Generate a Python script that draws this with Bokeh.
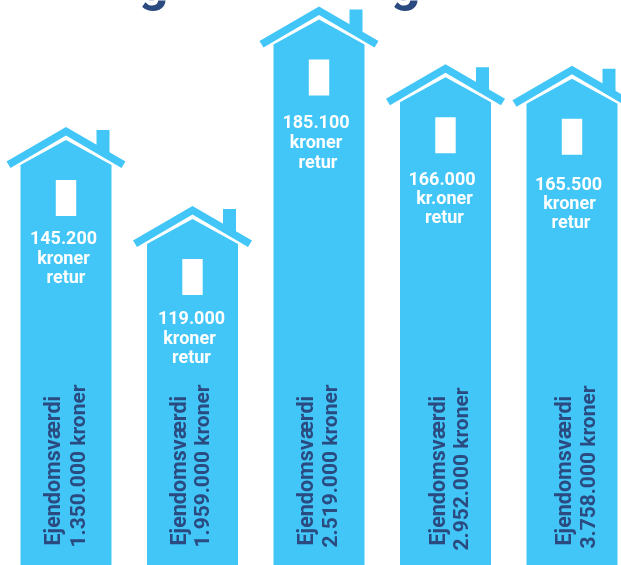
import math
from bokeh.plotting import figure
from bokeh.models import ColumnDataSource
from bokeh.core.properties import value
from bokeh.embed import file_html
from bokeh.resources import INLINE

# --- data ---
returns_k = [145.2, 119.0, 185.1, 166.0, 165.5]
return_labels = ["145.200", "119.000", "185.100", "166.000", "165.500"]
unit_labels = ["kroner", "kroner", "kroner", "kr.oner", "kroner"]
suffix_labels = ["retur", "retur", "retur", "retur", "retur"]
caption_labels = ["Ejendomsværdi"] * 5
property_labels = ["1.350.000 kroner", "1.959.000 kroner", "2.519.000 kroner",
                   "2.952.000 kroner", "3.758.000 kroner"]
title_fragments = ["g", "g"]

# --- layout ---
W, H = 621, 565
PX_PER_K = 3.02
SPACING = 126.5
FIRST = 65.5
BLUE = "#41C6F7"
NAVY = "#2A4A80"
FONT = value("Roboto")
BASE = 0.35  # em shift that brings Bokeh's text baseline onto the wanted line

xs = list(range(len(returns_k)))
p = figure(width=W, height=H, output_backend="svg", toolbar_location=None,
           x_range=(-FIRST / SPACING, (W - FIRST) / SPACING),
           y_range=(0, H / PX_PER_K), min_border=0, outline_line_color=None,
           background_fill_color="white", border_fill_color="white")
p.axis.visible = False
p.grid.visible = False
p.styles = {"position": "fixed", "left": "0", "top": "0"}


def shape(pts):
    """Turn a house outline (px from the roof top) into patches for every house."""
    px, py = [], []
    for i, v in zip(xs, returns_k):
        px.append([i + dx / SPACING for dx, dy in pts])
        py.append([v - dy / PX_PER_K if dy is not None else 0 for dx, dy in pts])
    return px, py


BODY = [(0, 13), (45.5, 38), (45.5, None), (-45.5, None), (-45.5, 38)]
ROOF = [(0, 0), (59.5, 34.5), (55.5, 41), (0, 8.5), (-55.5, 41), (-59.5, 34.5)]
CHIMNEY = [(30.5, 3), (43.5, 3), (43.5, 27), (30.5, 20)]
WINDOW = [(-10.2, 53), (10.2, 53), (10.2, 89), (-10.2, 89)]

for pts, col in [(BODY, BLUE), (ROOF, BLUE), (CHIMNEY, BLUE), (WINDOW, "white")]:
    px, py = shape(pts)
    p.patches(px, py, fill_color=col, line_color=None)

# white "return" labels, offsets in px from each roof top
WHITE_SIZE = 18
line_rows = [
    (return_labels, [117, 118, 121.7, 121, 124], [-2.5, -1, -3, -3.5, -3.5]),
    (unit_labels, [137, 137.5, 141, 140, 143], [-2.5, -3, -3, -1, -2.5]),
    (suffix_labels, [155.7, 156.5, 161, 158.7, 162], [0, -1, -1, -1, -1]),
]
for texts, dy, dx in line_rows:
    src = ColumnDataSource(dict(x=xs, y=returns_k, t=texts, xo=dx,
                                yo=[d - BASE * WHITE_SIZE for d in dy]))
    p.text("x", "y", text="t", source=src, x_offset="xo", y_offset="yo",
           text_color="white", text_font=FONT, text_font_size=f"{WHITE_SIZE}px",
           text_font_style="bold", text_align="center", text_baseline="alphabetic")

# rotated captions at the foot of each bar
cap_rows = [
    (caption_labels, [-5.5, -6.5, -5.5, -0.5, -0.5], [-20, -20, -20, -20, -20], 21.5),
    (property_labels, [19, 17, 18, 23, 23], [-18, -18, -18, -15, -17], 21),
]
for texts, dx, dy, size in cap_rows:
    src = ColumnDataSource(dict(x=xs, y=[0] * 5, t=texts,
                                xo=[d - BASE * size for d in dx], yo=dy))
    p.text("x", "y", text="t", source=src, x_offset="xo", y_offset="yo", angle=math.pi / 2,
           text_color=NAVY, text_font=FONT, text_font_size=f"{size}px",
           text_font_style="bold", text_align="left", text_baseline="alphabetic")

# the title is cropped by the picture's top edge: only two descenders show
src = ColumnDataSource(dict(x=[(153 - FIRST) / SPACING, (405 - FIRST) / SPACING],
                            y=[H / PX_PER_K] * 2, t=title_fragments))
p.text("x", "y", text="t", source=src, y_offset=-18, text_color=NAVY, text_font=FONT,
       text_font_size="52px", text_font_style="bold", text_align="center",
       text_baseline="alphabetic")

open("out.html", "w").write(file_html(p, INLINE))
